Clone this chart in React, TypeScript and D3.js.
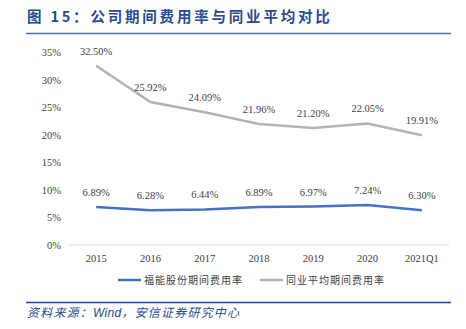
import React from "react";
import * as d3 from "d3";

const categories = ["2015", "2016", "2017", "2018", "2019", "2020", "2021Q1"];
const companyRate = [6.89, 6.28, 6.44, 6.89, 6.97, 7.24, 6.3];
const peerRate = [32.5, 25.92, 24.09, 21.96, 21.2, 22.05, 19.91];
const yTicks = [0, 5, 10, 15, 20, 25, 30, 35];
const seriesNames = ["福能股份期间费用率", "同业平均期间费用率"];

const W = 466, H = 329;
const plot = { left: 69, right: 449, top: 52, bottom: 245 };

export default function App() {
  const x = d3.scaleBand<string>().domain(categories).range([plot.left, plot.right]);
  const y = d3.scaleLinear().domain([0, 35]).range([plot.bottom, plot.top]);
  const cx = (c: string) => (x(c) as number) + x.bandwidth() / 2;
  const line = d3.line<number>().x((_, i) => cx(categories[i])).y((d) => y(d));
  const serif = "'Liberation Serif', 'Times New Roman', serif";
  const cjk = "'Noto Sans CJK SC', sans-serif";
  const series = [
    { values: companyRate, color: "#4472c4" },
    { values: peerRate, color: "#b4b4b4" },
  ];
  return (
    <svg width={W} height={H} style={{ position: "absolute", left: 0, top: 0 }}>
      <rect width={W} height={H} fill="#fff" />
      <text x={27} y={22} fontFamily={cjk} fontWeight="bold" fontSize={14.5} letterSpacing={2.8} fill="#2b4b8c">
        图 15：公司期间费用率与同业平均对比
      </text>
      <line x1={26} x2={451} y1={33.5} y2={33.5} stroke="#4a6fb0" strokeWidth={1.5} />
      {yTicks.map((t) => (
        <text key={t} x={61} y={y(t) + 4} textAnchor="end" fontFamily={serif} fontSize={10.5} fill="#404040">
          {t}%
        </text>
      ))}
      <line x1={plot.left} x2={plot.right} y1={plot.bottom} y2={plot.bottom} stroke="#e6e6e6" strokeWidth={1.5} />
      {categories.map((c) => (
        <text key={c} x={cx(c)} y={262} textAnchor="middle" fontFamily={serif} fontSize={10.5} fill="#404040">
          {c}
        </text>
      ))}
      {series.map((s, si) => (
        <g key={si}>
          <path d={line(s.values) || ""} fill="none" stroke={s.color} strokeWidth={2.5} />
          {s.values.map((v, i) => (
            <text key={i} x={cx(categories[i])} y={y(v) - 11} textAnchor="middle" fontFamily={serif} fontSize={10.5} fill="#404040">
              {v.toFixed(2)}%
            </text>
          ))}
        </g>
      ))}
      {seriesNames.map((n, i) => {
        const lx = i === 0 ? 118 : 260;
        return (
          <g key={n}>
            <line x1={lx} x2={lx + 23} y1={280} y2={280} stroke={series[i].color} strokeWidth={2.5} />
            <text x={lx + 26} y={284} fontFamily={cjk} fontSize={10} letterSpacing={1} fill="#404040">{n}</text>
          </g>
        );
      })}
      <line x1={26} x2={451} y1={302.5} y2={302.5} stroke="#1f3f99" strokeWidth={1.5} />
      <text x={27} y={317} fontFamily={cjk} fontStyle="italic" fontSize={12} letterSpacing={1.2} fill="#2b4b8c">
        资料来源：<tspan fontFamily="'Liberation Sans', Arial, sans-serif" letterSpacing={0.3}>Wind</tspan>，安信证券研究中心
      </text>
    </svg>
  );
}
